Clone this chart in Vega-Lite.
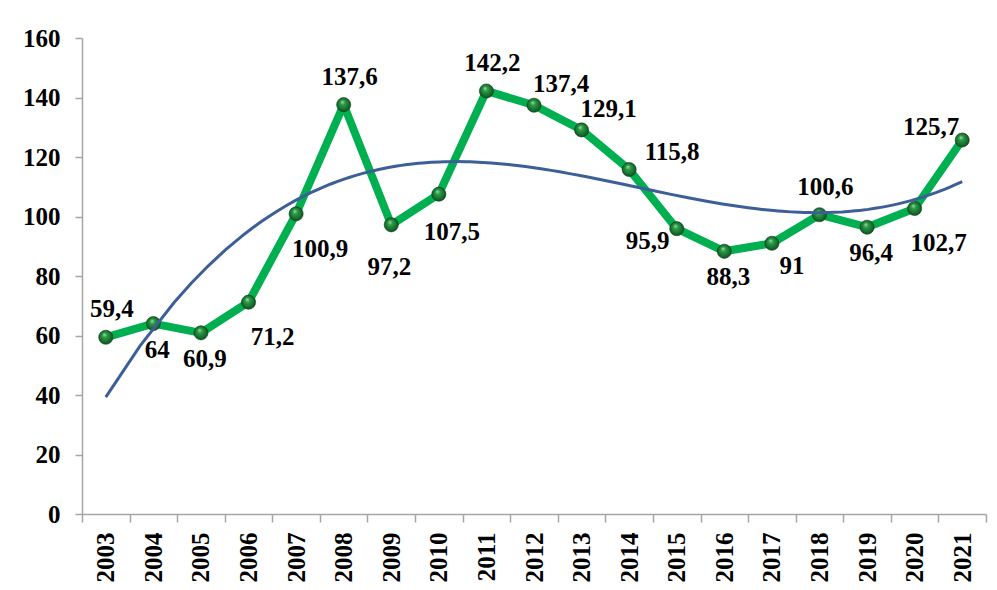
{
  "$schema": "https://vega.github.io/schema/vega-lite/v6.json",
  "width": 904,
  "height": 476,
  "autosize": {"type": "none"},
  "padding": {"left": 82, "top": 38, "right": 11, "bottom": 76},
  "background": "white",
  "config": {
    "view": {"stroke": null},
    "font": "Liberation Serif",
    "locale": {"number": {"decimal": ",", "thousands": "\u00a0", "grouping": [3], "currency": ["", ""]}},
    "text": {"font": "Liberation Serif", "fontSize": 25, "fontWeight": "bold", "color": "#000000"}
  },
  "data": {
    "values": [
      {"year": 2003, "value": 59.4},
      {"year": 2004, "value": 64},
      {"year": 2005, "value": 60.9},
      {"year": 2006, "value": 71.2},
      {"year": 2007, "value": 100.9},
      {"year": 2008, "value": 137.6},
      {"year": 2009, "value": 97.2},
      {"year": 2010, "value": 107.5},
      {"year": 2011, "value": 142.2},
      {"year": 2012, "value": 137.4},
      {"year": 2013, "value": 129.1},
      {"year": 2014, "value": 115.8},
      {"year": 2015, "value": 95.9},
      {"year": 2016, "value": 88.3},
      {"year": 2017, "value": 91},
      {"year": 2018, "value": 100.6},
      {"year": 2019, "value": 96.4},
      {"year": 2020, "value": 102.7},
      {"year": 2021, "value": 125.7}
    ]
  },
  "encoding": {
    "x": {
      "field": "year",
      "type": "quantitative",
      "scale": {"domain": [2002.5, 2021.5], "nice": false, "zero": false},
      "axis": {
        "title": null,
        "grid": false,
        "values": [2002.5, 2003.5, 2004.5, 2005.5, 2006.5, 2007.5, 2008.5, 2009.5, 2010.5, 2011.5, 2012.5, 2013.5, 2014.5, 2015.5, 2016.5, 2017.5, 2018.5, 2019.5, 2020.5, 2021.5],
        "labelExpr": "datum.value < 2021 ? format(datum.value + 0.5, 'd') : ''",
        "labelOffset": 23.79,
        "labelAngle": 270,
        "labelAlign": "right",
        "labelBaseline": "middle",
        "labelOverlap": false,
        "labelFlush": false,
        "labelBound": false,
        "labelFont": "Liberation Serif",
        "labelFontSize": 25,
        "labelFontWeight": "bold",
        "labelColor": "#000000",
        "labelPadding": 10,
        "tickSize": 8,
        "tickColor": "#A6A6A6",
        "tickWidth": 1.5,
        "domainColor": "#A6A6A6",
        "domainWidth": 1.5
      }
    },
    "y": {
      "field": "value",
      "type": "quantitative",
      "scale": {"domain": [0, 160], "nice": false},
      "axis": {
        "title": null,
        "grid": false,
        "values": [0, 20, 40, 60, 80, 100, 120, 140, 160],
        "labelFont": "Liberation Serif",
        "labelFontSize": 25,
        "labelFontWeight": "bold",
        "labelColor": "#000000",
        "labelPadding": 15,
        "labelFlush": false,
        "labelBound": false,
        "tickSize": 7,
        "tickColor": "#A6A6A6",
        "tickWidth": 1.5,
        "domainColor": "#A6A6A6",
        "domainWidth": 1.5
      }
    }
  },
  "layer": [
    {
      "mark": {"type": "line", "color": "#00B050", "strokeWidth": 8, "strokeJoin": "round"}
    },
    {
      "mark": {
        "type": "point",
        "shape": "circle",
        "size": 200,
        "filled": true,
        "opacity": 1,
        "fill": {
          "gradient": "radial",
          "x1": 0.4, "y1": 0.3, "r1": 0,
          "x2": 0.5, "y2": 0.5, "r2": 0.55,
          "stops": [
            {"offset": 0, "color": "#9BE6A8"},
            {"offset": 0.3, "color": "#2E9A48"},
            {"offset": 0.75, "color": "#146B2C"},
            {"offset": 1, "color": "#0A4519"}
          ]
        },
        "stroke": "#0B3D17",
        "strokeWidth": 0.6
      }
    },
    {
      "transform": [{"regression": "value", "on": "year", "method": "poly", "order": 3, "extent": [2003, 2021]}],
      "mark": {"type": "line", "color": "#3C5F97", "strokeWidth": 3}
    },
    {
      "encoding": {"text": {"field": "value", "type": "quantitative", "format": ".1~f"}},
      "layer": [
        {"transform": [{"filter": {"field": "year", "oneOf": [2003, 2008, 2011, 2018]}}], "mark": {"type": "text", "dx": 6, "dy": -28}},
        {"transform": [{"filter": {"field": "year", "oneOf": [2012, 2013]}}], "mark": {"type": "text", "dx": 27, "dy": -21}},
        {"transform": [{"filter": {"field": "year", "oneOf": [2014]}}], "mark": {"type": "text", "dx": 43, "dy": -17}},
        {"transform": [{"filter": {"field": "year", "oneOf": [2004, 2005, 2016, 2019]}}], "mark": {"type": "text", "dx": 4, "dy": 26}},
        {"transform": [{"filter": {"field": "year", "oneOf": [2006, 2007, 2020]}}], "mark": {"type": "text", "dx": 24, "dy": 35}},
        {"transform": [{"filter": {"field": "year", "oneOf": [2009]}}], "mark": {"type": "text", "dx": -2, "dy": 42}},
        {"transform": [{"filter": {"field": "year", "oneOf": [2010]}}], "mark": {"type": "text", "dx": 13, "dy": 38}},
        {"transform": [{"filter": {"field": "year", "oneOf": [2017]}}], "mark": {"type": "text", "dx": 20, "dy": 23}},
        {"transform": [{"filter": {"field": "year", "oneOf": [2015]}}], "mark": {"type": "text", "dx": -29, "dy": 12}},
        {"transform": [{"filter": {"field": "year", "oneOf": [2021]}}], "mark": {"type": "text", "dx": -31, "dy": -13}}
      ]
    },
    {
      "data": {"values": [{}]},
      "mark": {"type": "text", "fontSize": 18.5, "lineBreak": "\n", "lineHeight": 23, "align": "center", "baseline": "middle"},
      "encoding": {
        "x": {"datum": 2016.8},
        "y": {"datum": 47.2},
        "text": {"value": "y = 0,0781x³ - 471,91x² + 950502x - 6E+08\nR² = 0,6186"}
      }
    }
  ]
}
